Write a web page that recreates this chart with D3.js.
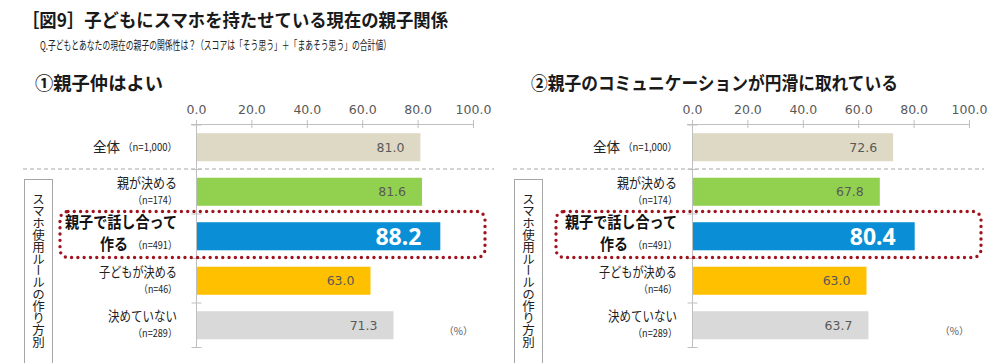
<!DOCTYPE html>
<html><head><meta charset="utf-8">
<script src="https://cdn.jsdelivr.net/npm/d3@7"></script>
<style>
html,body{margin:0;padding:0;background:#fff;}
svg{display:block;font-family:"Noto Sans CJK JP","Noto Sans",sans-serif;}
</style></head>
<body>
<svg id="chart" width="1000" height="363"></svg>
<script>
const title = "［図9］子どもにスマホを持たせている現在の親子関係";
const subtitle = "Q.子どもとあなたの現在の親子の関係性は？（スコアは「そう思う」＋「まあそう思う」の合計値）";
const panelTitles = ["①親子仲はよい", "②親子のコミュニケーションが円滑に取れている"];
const categories = ["全体", "親が決める", "親子で話し合って作る", "子どもが決める", "決めていない"];
const sampleSizes = ["（n=1,000）", "（n=174）", "（n=491）", "（n=46）", "（n=289）"];
const valuesGoodRelation = [81.0, 81.6, 88.2, 63.0, 71.3];
const valuesCommunication = [72.6, 67.8, 80.4, 63.0, 63.7];
const barColors = ["#ddd9c4", "#92d050", "#0a8fd6", "#ffc000", "#d9d9d9"];
const xTicks = [0, 20, 40, 60, 80, 100];
const groupLabel = "スマホ使用ルールの作り方別";
const highlightIndex = 2;

// widths of label glyph runs as measured on the reference (layout only)
const labelWidths = [27, 60, 0, 78, 69];
const nWidths = [54, 44, 44, 38, 44];

const svg = d3.select("#chart");
svg.append("text").attr("x", 22).attr("y", 27)
  .attr("font-size", 18.5).attr("font-weight", "bold").attr("fill", "#1a1a1a")
  .attr("textLength", 426).attr("lengthAdjust", "spacingAndGlyphs").text(title);
svg.append("text").attr("x", 40).attr("y", 50)
  .attr("font-size", 12).attr("fill", "#222")
  .attr("textLength", 351).attr("lengthAdjust", "spacingAndGlyphs").text(subtitle);

function panel(offAxis, offFrame, titleText, titleLen, values) {
  const g = svg.append("g");
  const x = d3.scaleLinear().domain([0, 100]).range([196 + offAxis, 473 + offAxis]);
  const y = d3.scaleBand().domain(categories).range([125, 347.5]).paddingInner(0.37).paddingOuter(0.185);

  g.append("text").attr("x", 35 + offAxis).attr("y", 90)
    .attr("font-size", 18.5).attr("font-weight", "bold").attr("fill", "#1a1a1a")
    .attr("textLength", titleLen).attr("lengthAdjust", "spacingAndGlyphs").text(titleText);

  // dashed separator
  g.append("line").attr("x1", 23 + offFrame).attr("x2", 494 + offFrame)
    .attr("y1", 169).attr("y2", 169)
    .attr("stroke", "#a6a6a6").attr("stroke-width", 1).attr("stroke-dasharray", "4,3");

  // group box
  g.append("rect").attr("x", 24.5 + offFrame).attr("y", 179.5).attr("width", 28).attr("height", 190)
    .attr("fill", "#fff").attr("stroke", "#a6a6a6").attr("stroke-width", 1);
  g.append("text").attr("x", 38.5 + offFrame).attr("y", 193)
    .attr("font-size", 12.5).attr("fill", "#222")
    .style("writing-mode", "vertical-rl").style("text-orientation", "upright")
    .style("letter-spacing", "-0.6px")
    .text(groupLabel);

  // top axis
  const ax = g.append("g").attr("transform", "translate(0,124.5)")
    .call(d3.axisTop(x).tickValues(xTicks).tickSize(0).tickPadding(11).tickFormat(d3.format(".1f")));
  ax.select(".domain").attr("stroke", "#bfbfbf").attr("d", `M${x(0) - 5},0H${x(100)}`);
  ax.selectAll("text").attr("font-size", 12.5).attr("fill", "#595959")
    .attr("font-family", "'DejaVu Sans','Noto Sans',sans-serif").attr("dy", "0");
  g.selectAll(".xt").data(xTicks).enter().append("line")
    .attr("x1", d => x(d) + 0.5).attr("x2", d => x(d) + 0.5)
    .attr("y1", 120).attr("y2", 128).attr("stroke", "#bfbfbf");

  // left vertical axis with boundary ticks
  const x0 = x(0) + 0.5;
  g.append("line").attr("x1", x0).attr("x2", x0).attr("y1", 125).attr("y2", 347.5).attr("stroke", "#bfbfbf");
  const bounds = categories.map(c => y(c) - y.step() * y.paddingInner() / 2).concat([347.5]);
  g.selectAll(".yt").data(bounds).enter().append("line")
    .attr("x1", x0 - 5).attr("x2", x0 + 5).attr("y1", d => d).attr("y2", d => d)
    .attr("stroke", "#bfbfbf");

  // bars
  g.selectAll(".bar").data(values).enter().append("rect")
    .attr("x", x(0) + 1).attr("y", (d, i) => y(categories[i]))
    .attr("width", d => x(d) - x(0) - 1).attr("height", y.bandwidth())
    .attr("fill", (d, i) => barColors[i]);

  // value labels
  g.selectAll(".val").data(values).enter().append("text")
    .attr("x", (d, i) => x(d) - (i === highlightIndex ? 19 : 16))
    .attr("y", (d, i) => y(categories[i]) + y.bandwidth() / 2)
    .attr("dy", "0.36em").attr("text-anchor", "end")
    .attr("font-family", (d, i) => i === highlightIndex ? "'Noto Sans','DejaVu Sans',sans-serif" : "'DejaVu Sans','Noto Sans',sans-serif")
    .attr("font-size", (d, i) => i === highlightIndex ? 23 : 12.5)
    .attr("font-weight", (d, i) => i === highlightIndex ? "bold" : "normal")
    .attr("fill", (d, i) => i === highlightIndex ? "#fff" : "#595959")
    .text(d => d.toFixed(1));

  // category labels
  const lx = 177 + offAxis + (offAxis === 0 ? 0 : 4);
  const fit = (sel, w) => sel.attr("textLength", w).attr("lengthAdjust", "spacingAndGlyphs");
  categories.forEach((c, i) => {
    const cy = y(c) + y.bandwidth() / 2;
    if (i === 0) {
      fit(g.append("text").attr("x", lx).attr("y", cy + 4).attr("text-anchor", "end")
        .attr("font-size", 10.5).attr("fill", "#222").text(sampleSizes[i]), nWidths[i]);
      fit(g.append("text").attr("x", lx - nWidths[i] - 3).attr("y", cy + 5).attr("text-anchor", "end")
        .attr("font-size", 14).attr("fill", "#222").text(c), labelWidths[i]);
    } else if (i === highlightIndex) {
      fit(g.append("text").attr("x", lx).attr("y", cy - 8).attr("text-anchor", "end")
        .attr("font-size", 16).attr("font-weight", "bold").attr("fill", "#111").text("親子で話し合って"), 112);
      fit(g.append("text").attr("x", lx).attr("y", cy + 13).attr("text-anchor", "end")
        .attr("font-size", 10.5).attr("fill", "#222").text(sampleSizes[i]), nWidths[i]);
      fit(g.append("text").attr("x", lx - nWidths[i] - 5).attr("y", cy + 14).attr("text-anchor", "end")
        .attr("font-size", 16).attr("font-weight", "bold").attr("fill", "#111").text("作る"), 28);
    } else {
      fit(g.append("text").attr("x", lx).attr("y", cy - 4).attr("text-anchor", "end")
        .attr("font-size", 14).attr("fill", "#222").text(c), labelWidths[i]);
      fit(g.append("text").attr("x", lx).attr("y", cy + 12).attr("text-anchor", "end")
        .attr("font-size", 10.5).attr("fill", "#222").text(sampleSizes[i]), nWidths[i]);
    }
  });

  // dotted highlight box
  g.append("rect").attr("x", 60 + offAxis).attr("y", 211.5)
    .attr("width", 425).attr("height", 46).attr("rx", 8).attr("ry", 8)
    .attr("fill", "none").attr("stroke", "#a0141e").attr("stroke-width", 3.4)
    .attr("stroke-linecap", "round").attr("stroke-dasharray", "0,6.3");

  // unit
  g.append("text").attr("x", x(100)).attr("y", 335).attr("text-anchor", "end")
    .attr("font-size", 10).attr("fill", "#595959").text("（%）");
}

panel(0, 0, panelTitles[0], 128, valuesGoodRelation);
panel(496, 490, panelTitles[1], 367, valuesCommunication);
</script>
</body></html>
